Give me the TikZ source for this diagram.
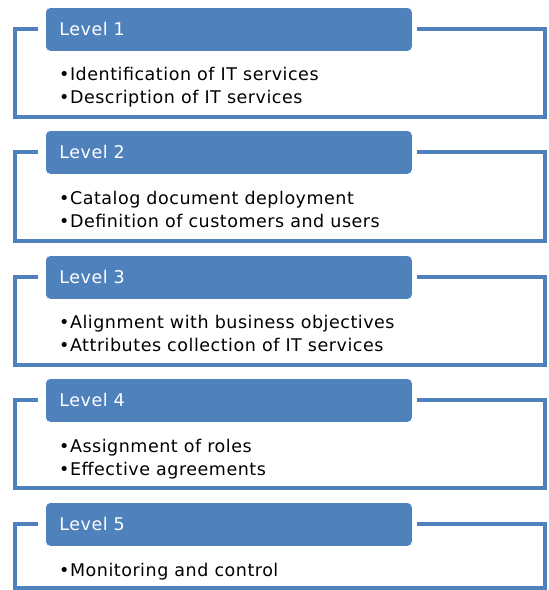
\documentclass[tikz,border=0pt]{standalone}
\usepackage{fontspec}
\setmainfont{DejaVu Sans}[LetterSpace=3]
\definecolor{lvlblue}{HTML}{4F81BD}
\tikzset{
  header/.style={fill=lvlblue, draw=white, line width=0.8pt, rounded corners=5pt,
    minimum width=367pt, minimum height=44pt, text width=339pt, align=left,
    inner xsep=14pt, inner ysep=0pt, text=white, font=\fontsize{17.5}{21}\selectfont, anchor=north west},
  frame/.style={draw=lvlblue, line width=4pt},
  item/.style={anchor=base west, inner sep=0pt, text=black, font=\fontsize{17.5}{21}\selectfont}
}
\begin{document}
\begin{tikzpicture}[x=1pt, y=-1pt]
\useasboundingbox (0,0) rectangle (549,590);
\fill[white] (0,0) rectangle (549,590);
% frames
\foreach \t/\b [count=\i] in {7/117, 130/241, 255/365, 378/488, 502/588}{
  \coordinate (fl\i) at (38,\t+22);
  \coordinate (fr\i) at (417,\t+22);
  \draw[frame] (fl\i) -- (15,\t+22) -- (15,\b) -- (545,\b) -- (545,\t+22) -- (fr\i);
  \node[header] (h\i) at (45,\t) {Level \i};
}
\node[item] (a1) at (59,80)  {•Identification of IT services};
\node[item] (b1) at (59,103) {•Description of IT services};
\node[item] (a2) at (59,204) {•Catalog document deployment};
\node[item] (b2) at (59,227) {•Definition of customers and users};
\node[item] (a3) at (59,328) {•Alignment with business objectives};
\node[item] (b3) at (59,351) {•Attributes collection of IT services};
\node[item] (a4) at (59,452) {•Assignment of roles};
\node[item] (b4) at (59,475) {•Effective agreements};
\node[item] (a5) at (59,576) {•Monitoring and control};
\end{tikzpicture}
\end{document}
